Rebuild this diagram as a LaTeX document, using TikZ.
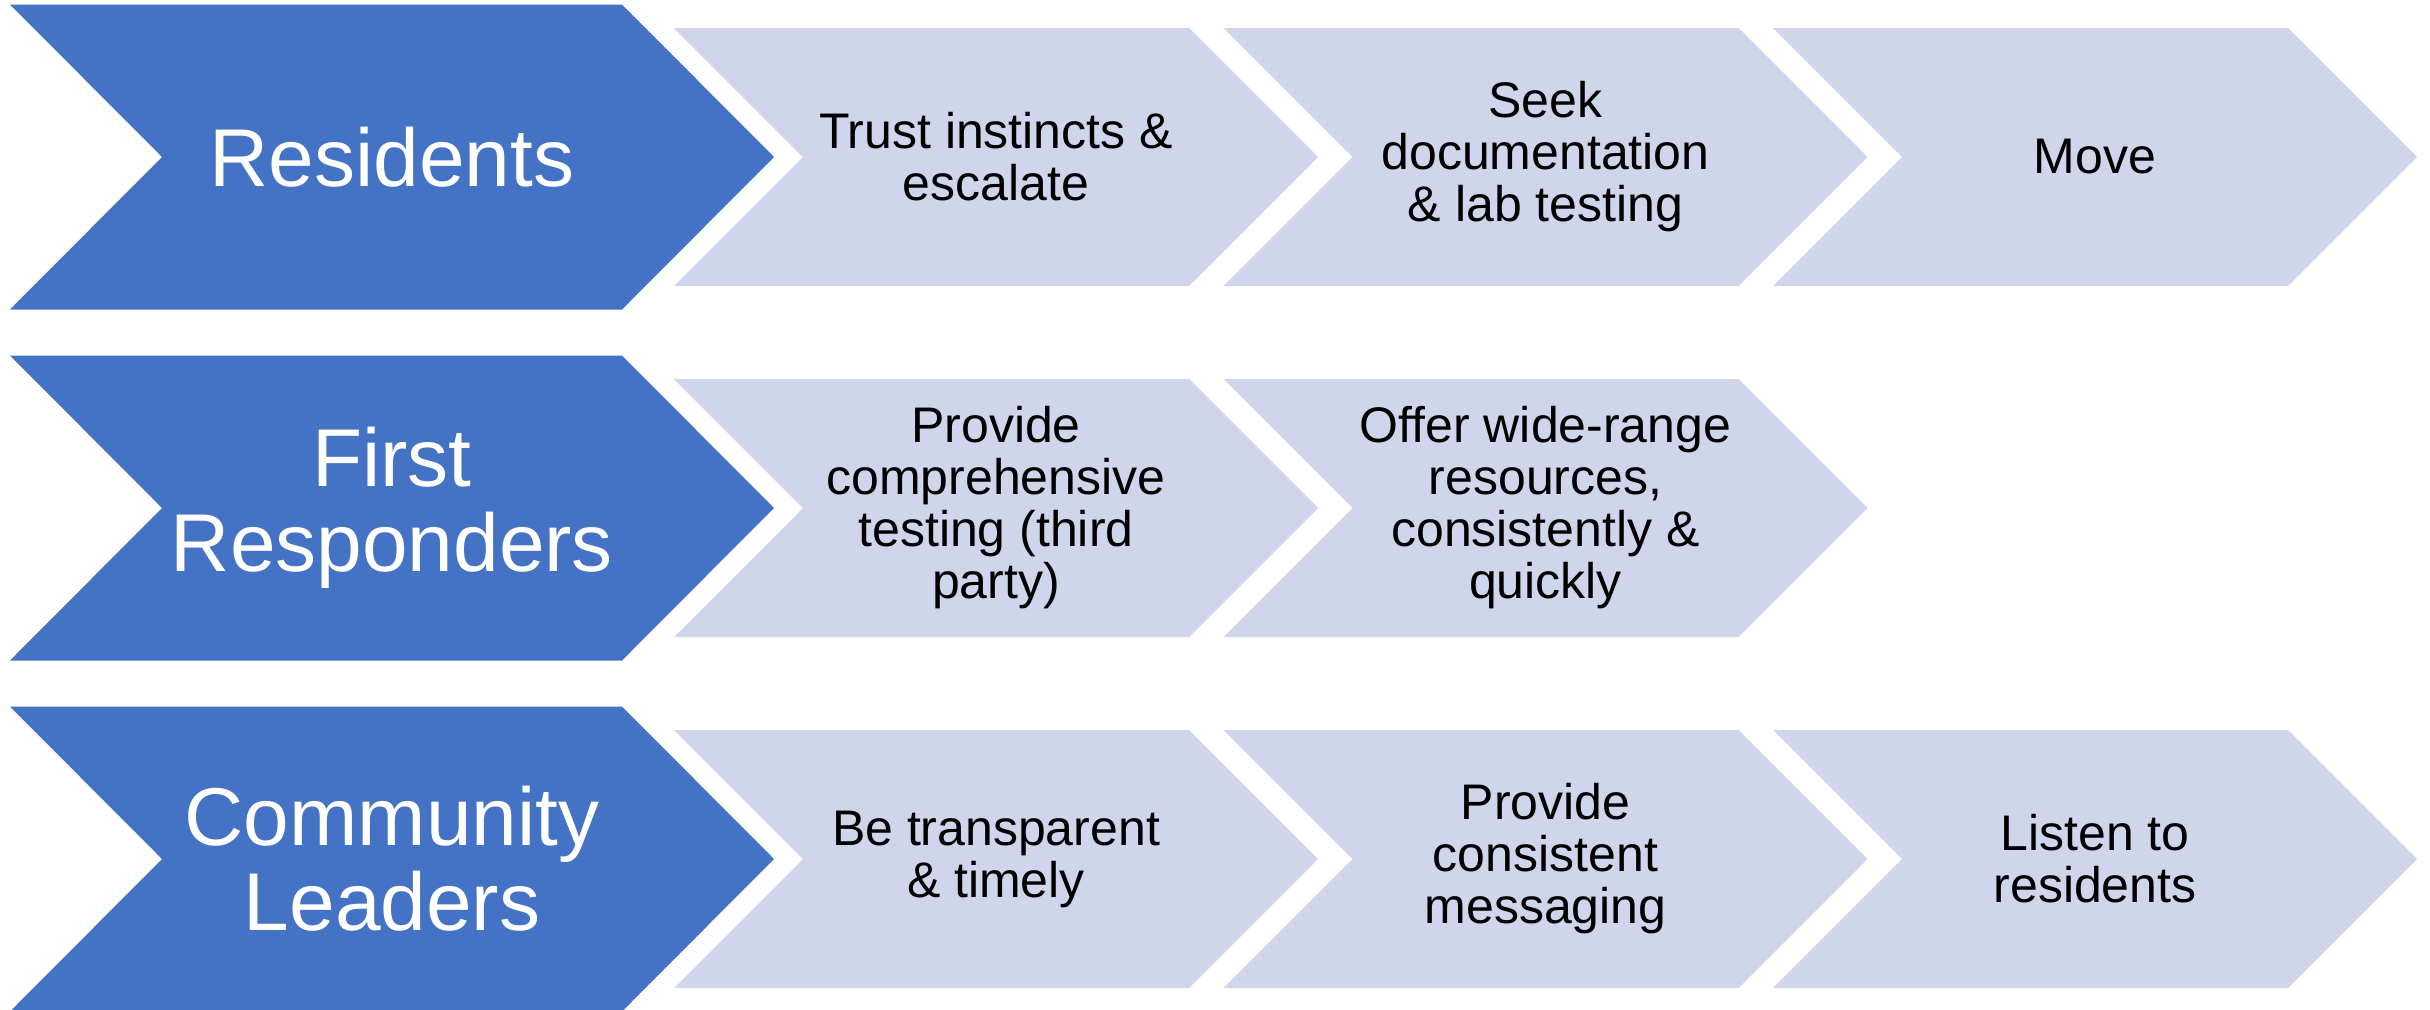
\documentclass[tikz,border=0pt]{standalone}
\usepackage{fontspec}
\setmainfont{Liberation Sans}
\usepackage{tikz}
\usetikzlibrary{calc}
\definecolor{chevdark}{HTML}{4472C4}
\definecolor{chevlight}{HTML}{CFD5EA}
\tikzset{
  headchev/.style={fill=chevdark},
  stepchev/.style={fill=chevlight},
  headtext/.style={text=white, align=center, inner sep=0pt, font=\fontsize{41}{42.5}\selectfont},
  steptext/.style={text=black, align=center, inner sep=0pt, font=\fontsize{25}{26}\selectfont},
}

\begin{document}
\begin{tikzpicture}[x=0.5pt, y=-0.5pt]
  \useasboundingbox (0,0) rectangle (2430,1009);
  \pgfmathsetmacro{\hh}{152.5}
  \pgfmathsetmacro{\sh}{129}
  \pgfmathsetmacro{\pitch}{549.5}

  % row heads
  \foreach \ym/\nm/\lbl in {157/res/{Residents}, 508/first/{First\\Responders}, 859/comm/{Community\\Leaders}}{
    \fill[headchev] (10,\ym-\hh) -- (622,\ym-\hh) -- (774,\ym) -- (622,\ym+\hh) -- (10,\ym+\hh) -- (162,\ym) -- cycle;
    \node[headtext] (\nm) at (392,\ym) {\lbl};
  };

  % steps
  \foreach \ym/\c/\nm/\lbl in {
      157/0/trust/{Trust instincts \&\\escalate},
      157/1/seek/{Seek\\documentation\\\& lab testing},
      157/2/move/{Move},
      508/0/testing/{Provide\\comprehensive\\testing (third\\party)},
      508/1/offer/{Offer wide-range\\resources,\\consistently \&\\quickly},
      859/0/transp/{Be transparent\\\& timely},
      859/1/messaging/{Provide\\consistent\\messaging},
      859/2/listen/{Listen to\\residents}}{
    \pgfmathsetmacro{\xl}{674+\c*\pitch}
    \fill[stepchev] (\xl,\ym-\sh) -- ({\xl+515},\ym-\sh) -- ({\xl+644},\ym) -- ({\xl+515},\ym+\sh) -- (\xl,\ym+\sh) -- ({\xl+\sh},\ym) -- cycle;
    \node[steptext] (\nm) at ({\xl+322},\ym) {\lbl};
  };
\end{tikzpicture}
\end{document}
